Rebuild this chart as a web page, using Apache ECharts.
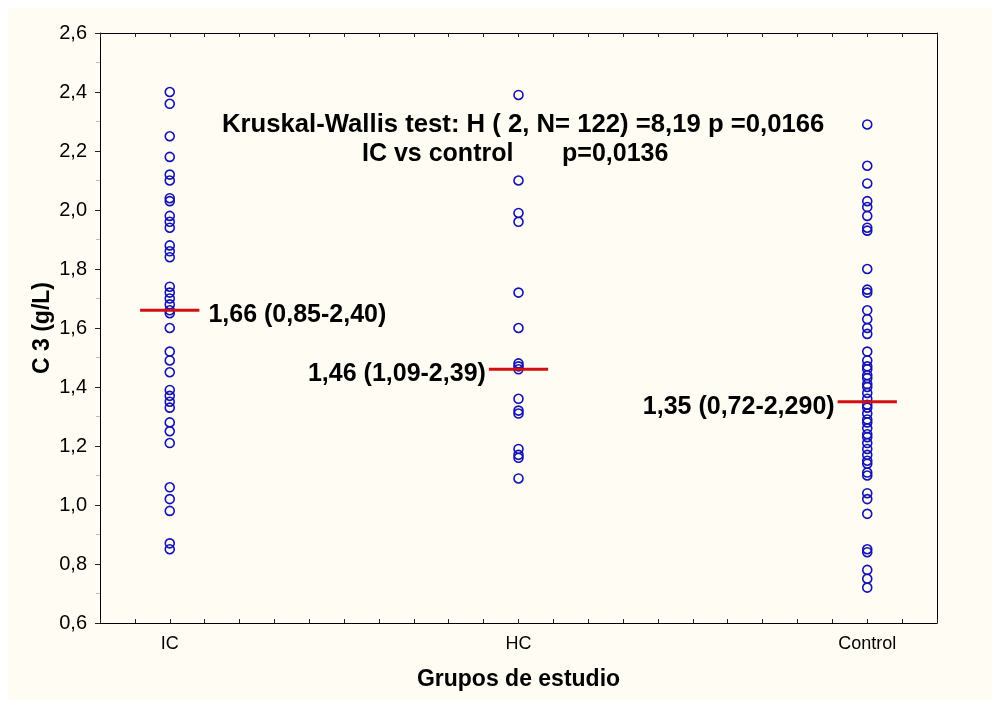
<!DOCTYPE html>
<html>
<head>
<meta charset="utf-8">
<script src="https://cdn.jsdelivr.net/npm/echarts@6/dist/echarts.min.js"></script>
<style>
  html, body { margin: 0; padding: 0; background: #ffffff; }
  #frame { position: absolute; left: 8px; top: 8px; width: 984px; height: 692px; background: #fffcf3; }
  #chart { position: absolute; left: 0; top: 0; width: 1000px; height: 708px; }
</style>
</head>
<body>
<div id="frame"></div>
<div id="chart"></div>
<script>
// Study groups along the x axis
const groups = ['IC', 'HC', 'Control'];

// C3 concentration (g/L) per subject, by group
const icValues = [2.40, 2.36, 2.25, 2.18, 2.12, 2.10, 2.04, 2.03, 1.98, 1.96, 1.94, 1.88,
  1.86, 1.84, 1.74, 1.72, 1.70, 1.68, 1.66, 1.65, 1.60, 1.52, 1.49, 1.45, 1.39, 1.37,
  1.35, 1.33, 1.28, 1.25, 1.21, 1.06, 1.02, 0.98, 0.87, 0.85];
const hcValues = [2.39, 2.10, 1.99, 1.96, 1.72, 1.60, 1.48, 1.47, 1.46, 1.36, 1.32, 1.31,
  1.19, 1.17, 1.16, 1.09];
const controlValues = [2.29, 2.15, 2.09, 2.03, 2.01, 1.98, 1.94, 1.93, 1.80, 1.73, 1.72,
  1.66, 1.63, 1.60, 1.58, 1.52, 1.49, 1.47, 1.46, 1.44, 1.43, 1.41, 1.40, 1.38, 1.36,
  1.34, 1.33, 1.31, 1.29, 1.28, 1.26, 1.24, 1.23, 1.21, 1.19, 1.17, 1.15, 1.14, 1.11,
  1.10, 1.04, 1.02, 0.97, 0.85, 0.84, 0.78, 0.75, 0.72];

// Median per group and the min-max range printed beside it
const medians = [1.66, 1.46, 1.35];
const rangeTexts = ['0,85-2,40', '1,09-2,39', '0,72-2,290'];

// Value axis ticks
const yMin = 0.6, yMax = 2.6, yStep = 0.2;

// Test results
const testLine1 = 'Kruskal-Wallis test: H ( 2, N= 122) =8,19 p =0,0166';
const testLine2 = 'IC vs control       p=0,0136';

const FONT = 'Liberation Sans, Arial, sans-serif';
const HALF = 0.085;          // half length of a median bar, in group units
const comma = v => v.toFixed(2).replace('.', ',');

const valueSets = [icValues, hcValues, controlValues];

const pointSeries = valueSets.map((vals, gi) => ({
  type: 'scatter',
  name: groups[gi],
  data: vals.map(v => [gi, v]),
  symbol: 'circle',
  symbolSize: 9,
  itemStyle: { color: 'rgba(0,0,0,0)', borderColor: '#1212b4', borderWidth: 1.6, opacity: 1 },
  z: 3
}));

const medianSeries = medians.map((m, gi) => ({
  type: 'line',
  data: [[gi - HALF, m], [gi + HALF, m]],
  symbol: 'none',
  lineStyle: { color: '#d40f0f', width: 3 },
  silent: true,
  z: 4
}));

const medianLabels = {
  type: 'scatter',
  symbolSize: 0,
  silent: true,
  itemStyle: { opacity: 1 },
  data: medians.map((m, gi) => ({
    value: gi === 0 ? [gi + HALF, m] : [gi - HALF, m],
    label: {
      show: true,
      position: gi === 0 ? 'right' : 'left',
      distance: gi === 0 ? 9 : 3,
      offset: [0, 5],
      formatter: comma(m) + ' (' + rangeTexts[gi] + ')',
      fontFamily: FONT, fontWeight: 'bold', fontSize: 25, color: '#000'
    }
  })),
  z: 5
};

const chart = echarts.init(document.getElementById('chart'), null, { renderer: 'canvas' });
chart.setOption({
  animation: false,
  backgroundColor: 'transparent',
  grid: { left: 100, right: 63, top: 33, bottom: 85 },
  xAxis: [{
    type: 'value', min: -0.2, max: 2.2, interval: 0.1,
    axisLine: { show: true, onZero: false, lineStyle: { color: '#000', width: 1 } },
    axisTick: { show: true, inside: true, length: 4, lineStyle: { color: '#222' } },
    axisLabel: {
      margin: 12, fontFamily: FONT, fontSize: 18, color: '#000',
      formatter: v => { const i = Math.round(v); return Math.abs(v - i) < 1e-6 && groups[i] ? groups[i] : ''; }
    },
    splitLine: { show: false },
    name: 'Grupos de estudio', nameLocation: 'middle', nameGap: 45, nameMoveOverlap: false,
    nameTextStyle: { fontFamily: FONT, fontWeight: 'bold', fontSize: 23, color: '#000' }
  }, {
    type: 'value', position: 'top', min: -0.2, max: 2.2, interval: 0.1,
    axisLine: { show: true, onZero: false, lineStyle: { color: '#000', width: 1 } },
    axisTick: { show: true, inside: true, length: 4, lineStyle: { color: '#222' } },
    axisLabel: { show: false }, splitLine: { show: false }
  }],
  yAxis: [{
    type: 'value', min: yMin, max: yMax, interval: yStep,
    axisLine: { show: true, onZero: false, lineStyle: { color: '#000', width: 1 } },
    axisTick: { show: true, length: 5, lineStyle: { color: '#222' } },
    minorTick: { show: true, splitNumber: 2, length: 4, lineStyle: { color: '#bbb' } },
    axisLabel: {
      margin: 13, fontFamily: FONT, fontSize: 20, color: '#000',
      formatter: v => v.toFixed(1).replace('.', ',')
    },
    splitLine: { show: false },
    name: 'C 3 (g/L)', nameLocation: 'middle', nameGap: 46, nameMoveOverlap: false,
    nameTextStyle: { fontFamily: FONT, fontWeight: 'bold', fontSize: 23, color: '#000' }
  }, {
    type: 'value', position: 'right', min: yMin, max: yMax, interval: yStep,
    axisLine: { show: true, onZero: false, lineStyle: { color: '#000', width: 1 } },
    axisTick: { show: false }, axisLabel: { show: false }, splitLine: { show: false }
  }],
  graphic: [{
    type: 'text', left: 222, top: 112,
    style: { text: testLine1, font: 'bold 25.7px ' + FONT, fill: '#000' }
  }, {
    type: 'text', left: 362, top: 142,
    style: { text: testLine2, font: 'bold 25px ' + FONT, fill: '#000' }
  }],
  series: [...pointSeries, ...medianSeries, medianLabels]
});
</script>
</body>
</html>
